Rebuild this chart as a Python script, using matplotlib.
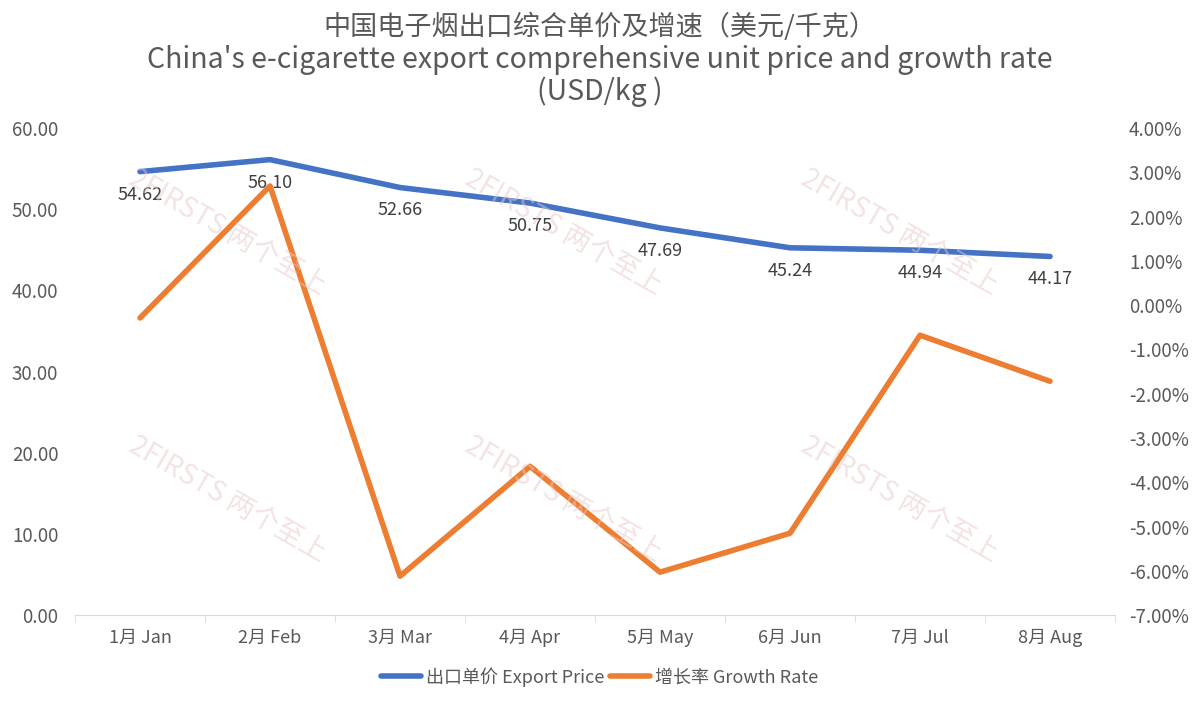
import matplotlib.pyplot as plt
import numpy as np
from matplotlib.ticker import FuncFormatter

plt.rcParams['font.family'] = ['Noto Sans CJK SC', 'DejaVu Sans']

# datos
months = ["1月 Jan", "2月 Feb", "3月 Mar", "4月 Apr", "5月 May", "6月 Jun", "7月 Jul", "8月 Aug"]
price = [54.62, 56.10, 52.66, 50.75, 47.69, 45.24, 44.94, 44.17]
growth = [-0.29, 2.69, -6.12, -3.64, -6.03, -5.15, -0.68, -1.72]

blue = "#4472C4"
orange = "#ED7D31"
gray = "#595959"

fig = plt.figure(figsize=(12, 7.03), dpi=100)
ax = fig.add_axes([0.0625, 0.125, 0.8667, 0.693])
ax2 = ax.twinx()

x = np.arange(len(months))
l1, = ax.plot(x, price, c=blue, lw=4, solid_capstyle="round", zorder=3)
l2, = ax2.plot(x, growth, c=orange, lw=4, solid_capstyle="round", zorder=3)

for xi, v in zip(x, price):
    ax.annotate(f"{v:.2f}", (xi, v), xytext=(0, -10), textcoords="offset points",
                ha="center", va="top", fontsize=13, color="#404040")

ax.set_xlim(-0.5, len(months) - 0.5)
ax.set_ylim(0, 60)
ax.set_yticks(np.arange(0, 61, 10))
ax.yaxis.set_major_formatter(FuncFormatter(lambda v, p: f"{v:.2f}"))
ax2.set_ylim(-7, 4)
ax2.set_yticks(np.arange(-7, 5, 1))
ax2.yaxis.set_major_formatter(FuncFormatter(lambda v, p: f"{v:.2f}%"))

ax.set_xticks(x)
ax.set_xticklabels(months)
ax.set_xticks(np.arange(-0.5, len(months), 1), minor=True)
ax.tick_params(axis="x", which="major", length=0, pad=10, labelsize=13, labelcolor=gray)
ax.tick_params(axis="x", which="minor", length=5, color="#D9D9D9")
ax.tick_params(axis="y", length=0, labelsize=13.5, labelcolor=gray, pad=12)
ax2.tick_params(axis="y", length=0, labelsize=13.5, labelcolor=gray, pad=10)

for a in (ax, ax2):
    for s in ["top", "left", "right"]:
        a.spines[s].set_visible(False)
ax.spines["bottom"].set_color("#D9D9D9")
ax2.spines["bottom"].set_visible(False)

# marca de agua
for wx, wy in [(0.19, 0.67), (0.47, 0.67), (0.75, 0.67), (0.19, 0.29), (0.47, 0.29), (0.75, 0.29)]:
    fig.text(wx, wy, "2FIRSTS 两个至上", fontsize=20, color="#E8C8C8", alpha=0.5,
             rotation=-30, ha="center", va="center", zorder=0)

fig.text(0.5, 0.962, "中国电子烟出口综合单价及增速（美元/千克）", ha="center", va="center",
         fontsize=19.5, color=gray)
fig.text(0.5, 0.915, "China's e-cigarette export comprehensive unit price and growth rate",
         ha="center", va="center", fontsize=20.5, color=gray)
fig.text(0.5, 0.869, "(USD/kg )", ha="center", va="center", fontsize=20.5, color=gray)

fig.legend([l1, l2], ["出口单价 Export Price", "增长率 Growth Rate"], loc="center",
           bbox_to_anchor=(0.5, 0.037), ncol=2, frameon=False, fontsize=13,
           labelcolor=gray, handlelength=2.2, handletextpad=0.3, columnspacing=0.3)

plt.savefig("out.png", dpi=100)
